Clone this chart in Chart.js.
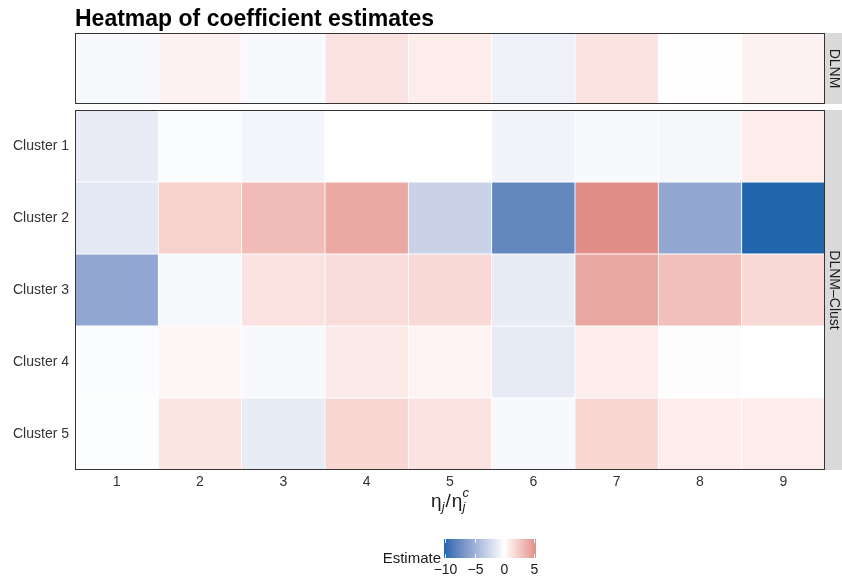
<!DOCTYPE html>
<html>
<head>
<meta charset="utf-8">
<script src="https://cdn.jsdelivr.net/npm/chart.js@4/dist/chart.umd.min.js"></script>
<style>
  html, body { margin: 0; padding: 0; background: #fff; }
  #wrap { position: relative; width: 842px; height: 580px; }
  #wrap canvas { position: absolute; left: 0; top: 0; }
</style>
</head>
<body>
<div id="wrap">
  <canvas id="top-chart" width="842" height="580"></canvas>
  <canvas id="main-chart" width="842" height="580"></canvas>
</div>
<script>
// Data
const lags = ['1', '2', '3', '4', '5', '6', '7', '8', '9'];
const clusters = ['Cluster 1', 'Cluster 2', 'Cluster 3', 'Cluster 4', 'Cluster 5'];
const dlnmEst = [-0.4, 0.6, -0.4, 1.35, 0.9, -0.85, 1.3, 0.1, 0.6];
const cluster1Est = [-1.15, -0.2, -0.6, 0.0, 0.0, -0.65, -0.35, -0.5, 0.85];
const cluster2Est = [-1.4, 2.2, 3.2, 4.1, -2.8, -7.8, 5.4, -5.6, -10.2];
const cluster3Est = [-5.6, -0.45, 1.35, 1.6, 1.8, -1.2, 4.2, 3.0, 1.8];
const cluster4Est = [-0.2, 0.4, -0.4, 1.0, 0.55, -1.25, 0.85, -0.1, 0.0];
const cluster5Est = [-0.15, 1.2, -1.2, 1.9, 1.3, -0.35, 1.9, 0.85, 0.9];
const legendTicks = [-10, -5, 0, 5];

const clusterRows = [cluster1Est, cluster2Est, cluster3Est, cluster4Est, cluster5Est];
const allValues = dlnmEst.concat(...clusterRows);
const vMin = Math.min(...allValues);
const vMax = Math.max(...allValues);

const LOW = '#2166AC';
const HIGH = '#B2182B';
const FONT = "'Liberation Sans', Arial, Helvetica, sans-serif";

// colour helpers: interpolate in Lab like ggplot's gradient2
function hexToRgb(hex) {
  const n = parseInt(hex.slice(1), 16);
  return [(n >> 16) & 255, (n >> 8) & 255, n & 255];
}

function rgbToLab(rgb) {
  const lin = rgb.map(c => {
    c = c / 255;
    return c <= 0.04045 ? c / 12.92 : Math.pow((c + 0.055) / 1.055, 2.4);
  });
  const x = (0.4124 * lin[0] + 0.3576 * lin[1] + 0.1805 * lin[2]) / 0.95047;
  const y = (0.2126 * lin[0] + 0.7152 * lin[1] + 0.0722 * lin[2]);
  const z = (0.0193 * lin[0] + 0.1192 * lin[1] + 0.9505 * lin[2]) / 1.08883;
  const f = t => t > 0.008856 ? Math.cbrt(t) : 7.787 * t + 16 / 116;
  const fx = f(x), fy = f(y), fz = f(z);
  return [116 * fy - 16, 500 * (fx - fy), 200 * (fy - fz)];
}

function labToRgb(lab) {
  const fy = (lab[0] + 16) / 116;
  const fx = fy + lab[1] / 500;
  const fz = fy - lab[2] / 200;
  const inv = t => t * t * t > 0.008856 ? t * t * t : (t - 16 / 116) / 7.787;
  const x = inv(fx) * 0.95047, y = inv(fy), z = inv(fz) * 1.08883;
  const lin = [
    3.2406 * x - 1.5372 * y - 0.4986 * z,
    -0.9689 * x + 1.8758 * y + 0.0415 * z,
    0.0557 * x - 0.2040 * y + 1.0570 * z
  ];
  return lin.map(c => {
    c = c <= 0.0031308 ? 12.92 * c : 1.055 * Math.pow(c, 1 / 2.4) - 0.055;
    return Math.round(Math.max(0, Math.min(1, c)) * 255);
  });
}

const whiteLab = rgbToLab([255, 255, 255]);
const lowLab = rgbToLab(hexToRgb(LOW));
const highLab = rgbToLab(hexToRgb(HIGH));

function fillColour(v) {
  const lim = Math.max(Math.abs(vMin), Math.abs(vMax));
  const t = Math.min(1, Math.abs(v) / lim);
  const target = v < 0 ? lowLab : highLab;
  const lab = whiteLab.map((w, i) => w + (target[i] - w) * t);
  const rgb = labToRgb(lab);
  return `rgb(${rgb[0]}, ${rgb[1]}, ${rgb[2]})`;
}

function tileDataset(label, values) {
  return {
    label: label,
    data: values.map(() => 1),
    backgroundColor: values.map(fillColour),
    borderColor: '#ffffff',
    borderWidth: 0.75,
    borderSkipped: false,
    barPercentage: 1,
    categoryPercentage: 1,
    stack: 'tiles'
  };
}

// extra drawing: panel borders, strips, title, axis title, colourbar
const decorPlugin = {
  id: 'decor',
  afterDraw(chart) {
    const ctx = chart.ctx;
    const area = chart.chartArea;
    const topPanel = { left: area.left, right: area.right, top: 33, bottom: 104 };
    ctx.save();

    // strips
    ctx.fillStyle = '#D9D9D9';
    ctx.fillRect(area.right, topPanel.top, 842 - area.right, topPanel.bottom - topPanel.top);
    ctx.fillRect(area.right, area.top, 842 - area.right, area.bottom - area.top);
    ctx.fillStyle = '#1A1A1A';
    ctx.font = `14px ${FONT}`;
    ctx.textAlign = 'center';
    ctx.textBaseline = 'middle';
    [['DLNM', topPanel], ['DLNM\u2013Clust', area]].forEach(([txt, p]) => {
      ctx.save();
      ctx.translate(area.right + 8.5, (p.top + p.bottom) / 2);
      ctx.rotate(Math.PI / 2);
      ctx.fillText(txt, 0, 0);
      ctx.restore();
    });

    // panel borders
    ctx.strokeStyle = '#333333';
    ctx.lineWidth = 1;
    [topPanel, area].forEach(p => {
      ctx.strokeRect(Math.round(p.left) + 0.5, Math.round(p.top) + 0.5,
        Math.round(p.right - p.left) - 1, Math.round(p.bottom - p.top) - 1);
    });

    // title
    ctx.fillStyle = '#000000';
    ctx.font = `bold 23px ${FONT}`;
    ctx.textAlign = 'left';
    ctx.textBaseline = 'alphabetic';
    ctx.fillText('Heatmap of coefficient estimates', 75, 26);

    // x axis title: eta_j / eta_j^c
    const cx = (area.left + area.right) / 2;
    const base = 507;
    const big = `19px ${FONT}`;
    const small = `italic 13px ${FONT}`;
    const parts = [
      { t: '\u03B7', f: big, dy: 0 },
      { t: 'j', f: small, dy: 4, pad: 1 },
      { t: '/', f: big, dy: 0, pad: 1 },
      { t: '\u03B7', f: big, dy: 0 }
    ];
    let w = 0;
    parts.forEach(p => { ctx.font = p.f; p.w = ctx.measureText(p.t).width + (p.pad || 0); w += p.w; });
    ctx.font = small;
    const stackW = Math.max(ctx.measureText('j').width, ctx.measureText('c').width);
    w += stackW;
    let x = cx - w / 2;
    ctx.fillStyle = '#1A1A1A';
    parts.forEach(p => {
      ctx.font = p.f;
      ctx.fillText(p.t, x, base + p.dy);
      x += p.w;
    });
    ctx.font = small;
    ctx.fillText('j', x, base + 4);
    ctx.fillText('c', x, base - 10);

    // colourbar legend
    const barX = 444, barY = 539, barW = 92, barH = 19;
    for (let i = 0; i < barW; i++) {
      const v = vMin + (i + 0.5) / barW * (vMax - vMin);
      ctx.fillStyle = fillColour(v);
      ctx.fillRect(barX + i, barY, 1, barH);
    }
    ctx.strokeStyle = '#ffffff';
    ctx.lineWidth = 1;
    ctx.fillStyle = '#1A1A1A';
    ctx.font = `14px ${FONT}`;
    ctx.textAlign = 'center';
    ctx.textBaseline = 'alphabetic';
    legendTicks.forEach(tv => {
      const tx = Math.round(barX + (tv - vMin) / (vMax - vMin) * barW) + 0.5;
      ctx.beginPath();
      ctx.moveTo(tx, barY); ctx.lineTo(tx, barY + barH / 5);
      ctx.moveTo(tx, barY + barH * 4 / 5); ctx.lineTo(tx, barY + barH);
      ctx.stroke();
      ctx.fillText(String(tv).replace('-', '\u2212'), tx, 574);
    });
    ctx.font = `15px ${FONT}`;
    ctx.textAlign = 'right';
    ctx.fillText('Estimate', 441, 563);

    ctx.restore();
  }
};

document.addEventListener('DOMContentLoaded', () => {
  Chart.defaults.font.family = FONT;
  Chart.defaults.animation = false;

  // top facet: DLNM
  new Chart(document.getElementById('top-chart'), {
    type: 'bar',
    data: { labels: lags, datasets: [tileDataset('DLNM', dlnmEst)] },
    options: {
      responsive: false,
      layout: { padding: { top: 33, right: 17, bottom: 476, left: 0 } },
      plugins: { legend: { display: false }, tooltip: { enabled: false } },
      scales: {
        x: {
          stacked: true,
          grid: { display: false, drawTicks: false },
          border: { display: false },
          ticks: { display: false },
          afterFit: s => { s.height = 0; }
        },
        y: {
          stacked: true, min: 0, max: 1,
          grid: { display: false, drawTicks: false },
          border: { display: false },
          ticks: { display: false },
          afterFit: s => { s.width = 75; }
        }
      }
    }
  });

  // bottom facet: DLNM-Clust
  new Chart(document.getElementById('main-chart'), {
    type: 'bar',
    data: { labels: lags, datasets: clusterRows.map((row, k) => tileDataset(clusters[k], row)) },
    options: {
      responsive: false,
      layout: { padding: { top: 110, right: 17, bottom: 60, left: 0 } },
      plugins: { legend: { display: false }, tooltip: { enabled: false } },
      scales: {
        x: {
          stacked: true,
          grid: { display: false, drawTicks: false },
          border: { display: false },
          ticks: { color: '#333333', font: { size: 14 }, padding: 4, maxRotation: 0 },
          afterFit: s => { s.height = 50; }
        },
        y: {
          stacked: true, min: 0, max: clusters.length, reverse: true,
          grid: { display: false, drawTicks: false },
          border: { display: false },
          afterBuildTicks: s => { s.ticks = clusters.map((c, i) => ({ value: i + 0.5 })); },
          ticks: { color: '#333333', font: { size: 14 }, padding: 6, autoSkip: false,
            callback: (v, i) => clusters[i] },
          afterFit: s => { s.width = 75; }
        }
      }
    },
    plugins: [decorPlugin]
  });
});
</script>
</body>
</html>
